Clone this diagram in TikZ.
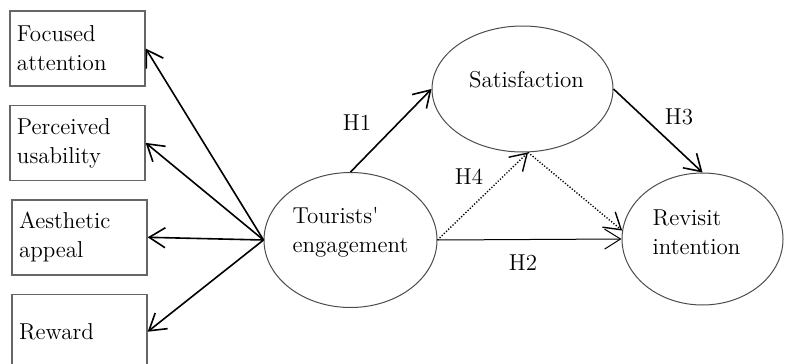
\documentclass[tikz,border=0pt]{standalone}
\usepackage{fontspec}
\usetikzlibrary{shapes.geometric,arrows.meta,positioning}

\begin{document}
\begin{tikzpicture}[x=0.5pt, y=-0.5pt, node distance=9pt,
  font=\fontsize{11.5}{14.5}\selectfont,
  dimbox/.style={rectangle, draw=black!60, line width=0.7pt, minimum width=67.5pt, minimum height=37.5pt, text width=60.5pt, inner xsep=3.5pt, align=left},
  construct/.style={ellipse, draw=black!70, line width=0.5pt, inner sep=0pt},
  link/.style={line width=0.8pt, -{Straight Barb[length=8pt,width=10pt]}},
  thinlink/.style={line width=0.5pt, -{Straight Barb[length=8pt,width=10pt]}},
  dotlink/.style={line width=0.7pt, dash pattern=on 0.6pt off 0.9pt, -{Straight Barb[length=8pt,width=10pt]}}]

\useasboundingbox (0,0) rectangle (787,364);
\clip (0,0) rectangle (787,364);

% Nodes
\node (focus) [dimbox] at (77.5,48.5) {Focused\\attention};
\node (usab) [dimbox, below=of focus] {Perceived\\usability};
\node (aesth) [dimbox, below=of usab, xshift=1pt] {Aesthetic\\appeal};
\node (reward) [dimbox, below=of aesth] {Reward};

\node (eng) [construct, minimum width=86.5pt, minimum height=67.5pt, label={[name=engtext, align=left, yshift=4pt]center:Tourists\textquotesingle\\engagement}] at (350.5,240) {};
\node (sat) [construct, minimum width=90.5pt, minimum height=63pt, label={[name=sattext, yshift=4.5pt, xshift=2pt]center:Satisfaction}] at (522.5,89) {};
\node (rev) [construct, minimum width=80.5pt, minimum height=66pt, label={[name=revtext, align=left, yshift=3.5pt, xshift=-3pt]center:Revisit\\intention}] at (702.5,239) {};

\node (h1) at (357,123) {H1};
\node (h2) at (523,263) {H2};
\node (h3) at (679,117) {H3};
\node (h4) at (469,177) {H4};

% Arrows
\draw [link] (eng.west) -- (focus.east);
\draw [link] (eng.west) -- (usab.east);
\draw [link] (eng.west) -- (aesth.east);
\draw [link] (eng.west) -- (reward.east);
\draw [link] (eng.north) -- (sat.west);
\draw [link] (sat.east) -- (rev.north);
\draw [thinlink] (eng.east) -- (rev.west);
\draw [dotlink] (eng.east) -- (sat.-85);
\draw [dotlink] (sat.-85) -- (rev.174);

\end{tikzpicture}
\end{document}
